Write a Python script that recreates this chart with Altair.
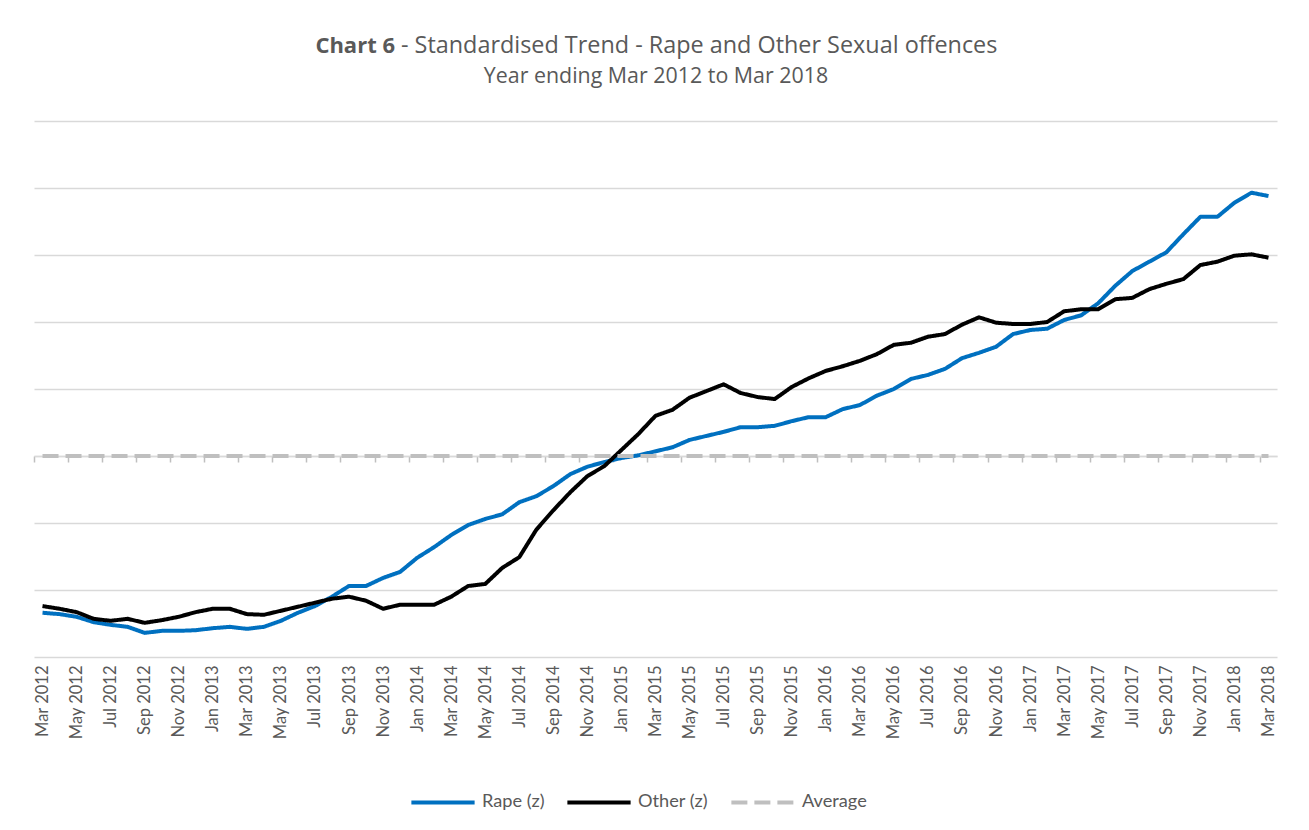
import altair as alt
import pandas as pd

MON = ["Jan", "Feb", "Mar", "Apr", "May", "Jun", "Jul", "Aug", "Sep", "Oct", "Nov", "Dec"]
months = [f"{MON[(2 + i) % 12]} {2012 + (2 + i) // 12}" for i in range(73)]

rape = [-2.34, -2.36, -2.40, -2.48, -2.52, -2.55, -2.64, -2.61, -2.61, -2.60,
        -2.57, -2.55, -2.58, -2.55, -2.46, -2.34, -2.24, -2.10, -1.94, -1.94,
        -1.82, -1.73, -1.52, -1.36, -1.18, -1.03, -0.94, -0.87, -0.69, -0.60,
        -0.45, -0.27, -0.16, -0.09, -0.03, 0.01, 0.07, 0.13, 0.24, 0.30,
        0.36, 0.43, 0.43, 0.45, 0.52, 0.58, 0.58, 0.70, 0.76, 0.90,
        1.00, 1.15, 1.21, 1.30, 1.46, 1.54, 1.63, 1.82, 1.88, 1.90,
        2.03, 2.10, 2.28, 2.54, 2.76, 2.90, 3.04, 3.31, 3.57, 3.57,
        3.78, 3.93, 3.88]

other = [-2.24, -2.28, -2.33, -2.43, -2.46, -2.43, -2.49, -2.45, -2.40, -2.33,
         -2.28, -2.28, -2.36, -2.37, -2.31, -2.25, -2.19, -2.13, -2.10, -2.16,
         -2.28, -2.22, -2.22, -2.22, -2.10, -1.94, -1.91, -1.67, -1.51, -1.10,
         -0.81, -0.54, -0.30, -0.15, 0.09, 0.33, 0.60, 0.69, 0.87, 0.97,
         1.07, 0.94, 0.88, 0.85, 1.03, 1.16, 1.27, 1.34, 1.42, 1.52,
         1.66, 1.69, 1.78, 1.82, 1.96, 2.07, 1.99, 1.97, 1.97, 2.00,
         2.16, 2.19, 2.19, 2.34, 2.36, 2.49, 2.57, 2.64, 2.85, 2.90,
         2.99, 3.01, 2.96]

average = [0.0] * 73

series_names = ["Rape (z)", "Other (z)", "Average"]
series_colors = ["#0070C0", "#000000", "#BFBFBF"]
series_dash = [[1, 0], [1, 0], [16, 7]]

rows = []
for name, vals in zip(series_names, [rape, other, average]):
    for i, v in enumerate(vals):
        rows.append({"idx": i, "month": months[i], "series": name, "z": v})
df = pd.DataFrame(rows)

FONT = "Lato"
TFONT = "Open Sans"
GREY = "#595959"

label_expr = "[" + ",".join(f"'{m}'" for m in months) + "][datum.value]"

xscale = alt.Scale(domain=[-0.5, 72.5], nice=False, zero=False)
yenc = alt.Y("z:Q", scale=alt.Scale(domain=[-3, 5], nice=False),
             axis=alt.Axis(values=list(range(-3, 6)), labels=False, ticks=False,
                           domain=False, grid=True, gridColor="#D9D9D9",
                           gridWidth=1.5, title=None))
color = alt.Color("series:N", scale=alt.Scale(domain=series_names, range=series_colors),
                  legend=alt.Legend(title=None, orient="none", direction="horizontal",
                                    legendX=375, legendY=647, symbolType="stroke",
                                    symbolSize=4000, symbolStrokeWidth=4,
                                    labelFont=FONT, labelFontSize=18.2, labelColor=GREY,
                                    labelOffset=5, columnPadding=14))
dash = alt.StrokeDash("series:N", scale=alt.Scale(domain=series_names, range=series_dash),
                      legend=None)

base = alt.Chart(df)

main_lines = base.mark_line(strokeWidth=4, strokeJoin="round").encode(
    x=alt.X("idx:Q", scale=xscale,
            axis=alt.Axis(values=list(range(0, 73, 2)), labelExpr=label_expr,
                          labelAngle=-90, ticks=False, domain=False, grid=False,
                          labelFont=FONT, labelFontSize=16.5, labelColor=GREY,
                          labelPadding=8, title=None)),
    y=yenc, color=color, strokeDash=dash,
    detail="series:N",
).transform_filter(alt.datum.series != "Average")

avg_line = base.mark_line(strokeWidth=4).encode(
    x=alt.X("idx:Q", scale=xscale,
            axis=alt.Axis(orient="bottom", values=[-0.5 + 2 * k for k in range(37)],
                          labels=False, ticks=True, tickSize=6, tickColor="#BFBFBF",
                          tickWidth=1.5, domain=True, domainColor="#D9D9D9",
                          domainWidth=1.5, grid=False, offset=-201, title=None)),
    y=yenc, color=color, strokeDash=dash,
).transform_filter(alt.datum.series == "Average")

title_df = pd.DataFrame({"t": ["Chart 6"]})
t_bold = alt.Chart(title_df).mark_text(
    text="Chart 6", align="right", baseline="alphabetic", font=TFONT, fontSize=22,
    fontWeight="bold", color=GREY).encode(x=alt.value(361), y=alt.value(-68))
t_rest = alt.Chart(title_df).mark_text(
    text="- Standardised Trend - Rape and Other Sexual offences", align="left",
    baseline="alphabetic", font=TFONT, fontSize=23.4, color=GREY).encode(
    x=alt.value(367), y=alt.value(-68))
t_sub = alt.Chart(title_df).mark_text(
    text="Year ending Mar 2012 to Mar 2018", align="center", baseline="alphabetic",
    font=TFONT, fontSize=21.4, color=GREY).encode(x=alt.value(622), y=alt.value(-38))

chart = alt.layer(main_lines, avg_line, t_bold, t_rest, t_sub).resolve_axis(
    x="independent"
).properties(
    width=1243, height=536,
    autosize=alt.AutoSizeParams(type="none"),
    padding={"left": 26, "top": 113, "right": 20, "bottom": 160},
).configure_view(strokeWidth=0)

chart.save("out.html", embed_options={"renderer": "svg", "actions": False})
